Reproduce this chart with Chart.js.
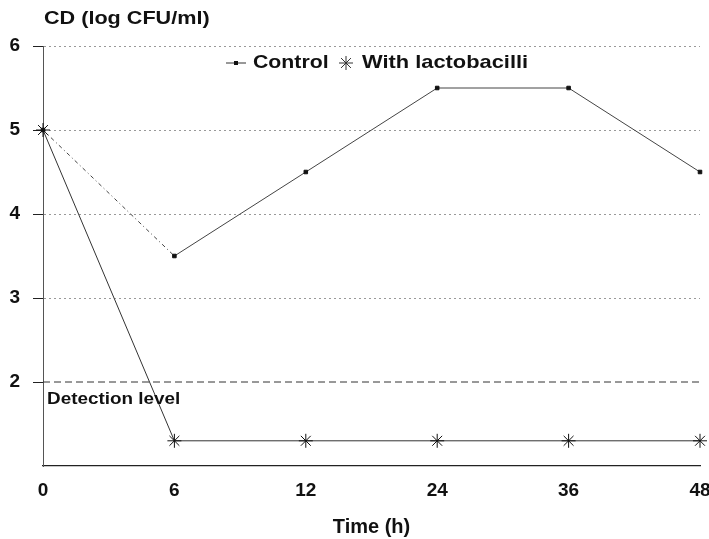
<!DOCTYPE html>
<html>
<head>
<meta charset="utf-8">
<script src="https://cdn.jsdelivr.net/npm/chart.js@4"></script>
<style>
  html, body { margin: 0; padding: 0; background: #fff; }
  #wrap { width: 709px; height: 539px; }
</style>
</head>
<body>
<div id="wrap"><canvas id="grafico"></canvas></div>
<script>
// Dados
const horas = ["0", "6", "12", "24", "36", "48"];
const controle = [5, 3.5, 4.5, 5.5, 5.5, 4.5];
const lactobacilos = [5, 1.3, 1.3, 1.3, 1.3, 1.3];
const nivelDeteccao = [2, 2, 2, 2, 2, 2];
const yTicks = [2, 3, 4, 5, 6];

const FONTE = "'Liberation Sans', Arial, sans-serif";

// Texto em negrito levemente esticado na horizontal, como no original
function textoLargo(ctx, txt, x, y, tam, esticar) {
  ctx.save();
  ctx.translate(x, y);
  ctx.scale(esticar, 1);
  ctx.font = "bold " + tam + "px " + FONTE;
  ctx.fillText(txt, 0, 0);
  ctx.restore();
}

// Textos livres: título do eixo y, legenda e "Detection level"
const textos = {
  id: "textos",
  afterDraw(chart) {
    const { ctx, scales } = chart;
    ctx.save();
    ctx.fillStyle = "#111";
    ctx.textBaseline = "middle";
    textoLargo(ctx, "CD (log CFU/ml)", 44, 19, 18, 1.2);

    // legenda
    const ly = 63;
    ctx.strokeStyle = "#333";
    ctx.lineWidth = 1;
    ctx.beginPath(); ctx.moveTo(226, ly); ctx.lineTo(246, ly); ctx.stroke();
    ctx.fillStyle = "#111";
    ctx.fillRect(234, ly - 2, 4, 4);
    textoLargo(ctx, "Control", 253, ly, 19, 1.12);
    const sx = 346, r = 7;
    ctx.beginPath();
    for (let a = 0; a < 4; a++) {
      const ang = a * Math.PI / 4;
      ctx.moveTo(sx - r * Math.cos(ang), ly - r * Math.sin(ang));
      ctx.lineTo(sx + r * Math.cos(ang), ly + r * Math.sin(ang));
    }
    ctx.stroke();
    textoLargo(ctx, "With lactobacilli", 362, ly, 19, 1.15);

    textoLargo(ctx, "Detection level", scales.x.left + 4, scales.y.getPixelForValue(2) + 18, 16, 1.18);
    ctx.restore();
  },
};

new Chart(document.getElementById("grafico"), {
  type: "line",
  data: {
    labels: horas,
    datasets: [
      {
        label: "Control",
        data: controle,
        borderColor: "#444",
        borderWidth: 1,
        pointStyle: "rect",
        pointRadius: 2.5,
        pointBackgroundColor: "#111",
        pointBorderColor: "#111",
        segment: { borderDash: (c) => (c.p0DataIndex === 0 ? [4, 3, 1, 3] : undefined) },
      },
      {
        label: "With lactobacilli",
        data: lactobacilos,
        borderColor: "#333",
        borderWidth: 1,
        pointStyle: "star",
        pointRadius: 7,
        pointBorderWidth: 1,
        pointBorderColor: "#111",
      },
      {
        label: "Detection level",
        data: nivelDeteccao,
        borderColor: "#333",
        borderWidth: 1,
        borderDash: [7, 4],
        pointRadius: 0,
      },
    ],
  },
  options: {
    responsive: true,
    maintainAspectRatio: false,
    animation: false,
    layout: { padding: { top: 46, right: 9, left: 0, bottom: 0 } },
    plugins: { legend: { display: false }, tooltip: { enabled: false } },
    scales: {
      x: {
        type: "category",
        offset: false,
        afterFit: (s) => { s.height = 73; s.paddingLeft = 0; s.paddingRight = 0; },
        grid: { display: false, drawTicks: false },
        border: { display: true, color: "#222", width: 1.2 },
        ticks: { padding: 13, color: "#111", font: { family: FONTE, size: 19, weight: "bold" } },
        title: {
          display: true,
          text: "Time (h)",
          color: "#111",
          font: { family: FONTE, size: 20, weight: "bold" },
          padding: { top: 10, bottom: 0 },
        },
      },
      y: {
        min: 1,
        max: 6,
        afterFit: (s) => { s.width = 43; },
        afterBuildTicks: (s) => { s.ticks = [1].concat(yTicks).map((v) => ({ value: v })); },
        grid: {
          color: (c) => (c.tick.value === 1 || c.tick.value === 2 ? "rgba(0,0,0,0)" : "#999"),
          tickColor: (c) => (c.tick.value === 1 ? "rgba(0,0,0,0)" : "#222"),
          tickLength: 10,
        },
        border: { display: true, color: "#555", dash: [2, 3] },
        ticks: {
          color: "#111",
          padding: 13,
          font: { family: FONTE, size: 19, weight: "bold" },
          callback: (v) => (v === 1 ? "" : v),
        },
      },
    },
  },
  plugins: [textos],
});
</script>
</body>
</html>
